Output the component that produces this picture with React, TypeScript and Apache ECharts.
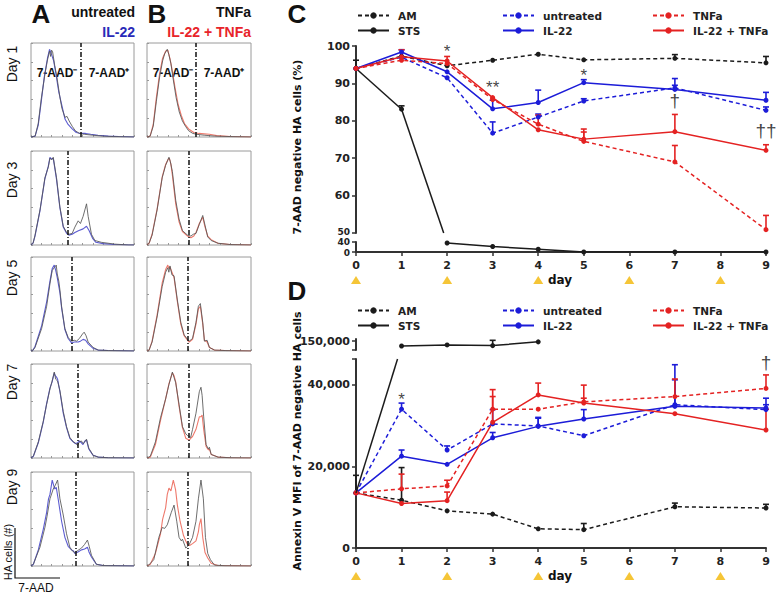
import React, { useEffect, useRef } from "react";
import * as echarts from "echarts";

// ---------------- DATA ----------------
const days = [0, 1, 2, 3, 4, 5, 7, 9];
const treatmentDays = [0, 2, 4, 6, 8];

// Panel C: 7-AAD negative HA cells (%)
const cAM = [94.0, 97.3, 94.7, 96.2, 97.8, 96.3, 96.7, 95.5];
const cAMErr = [96.2, null, null, null, null, null, 97.7, 97.2];
const cUntreated = [94.0, 97.0, 91.5, 76.7, 81.0, 85.3, 88.8, 82.8];
const cUntreatedErr = [null, null, null, 79.7, 81.8, 85.9, 89.5, 83.7];
const cIL22 = [94.0, 98.4, 93.1, 83.2, 84.9, 90.2, 88.4, 85.5];
const cIL22Err = [null, 99.0, null, 85.5, 88.2, 91.0, 91.3, 87.6];
const cTNFa = [94.0, 96.2, 95.3, 85.7, 79.1, 74.5, 69.0, 50.9];
const cTNFaErr = [null, null, null, null, 81.5, 77.0, 73.4, 54.7];
const cCombo = [94.0, 97.1, 96.0, 86.2, 77.6, 75.1, 77.1, 72.1];
const cComboErr = [null, 99.0, 97.2, null, null, 77.8, 81.7, 73.6];
const cSTSUpperDays = [0, 1];
const cSTSUpper = [94.0, 83.1];
const cSTSUpperErr = [null, 84.0];
const cSTSLowerDays = [2, 3, 4, 5, 7, 9];
const cSTSLower = [36, 22, 11, 0, 0, 0];
const cLowerTickLabels = [0, 40];
const cMarks = [
  { day: 2, value: 98.6, text: "*" },
  { day: 3, value: 89.0, text: "**" },
  { day: 5, value: 92.2, text: "*" },
  { day: 7, value: 85.5, text: "†" },
  { day: 9, value: 77.5, text: "††" },
];

// Panel D: Annexin V MFI of 7-AAD negative HA cells
const dAM = [13500, 11700, 9100, 8300, 4700, 4500, 10100, 9800];
const dAMErr = [17800, 19700, null, null, null, 6000, 11000, 10700];
const dUntreated = [13500, 34000, 24000, 30400, 29900, 27500, 35100, 33900];
const dUntreatedErr = [null, 35500, 25000, 33900, 32000, null, 41200, 35100];
const dIL22 = [13500, 22500, 20500, 27000, 29800, 31600, 34700, 34300];
const dIL22Err = [null, 24000, null, 28300, 31800, 33900, 44900, 36700];
const dTNFa = [13500, 14500, 15200, 34000, 34000, 35800, 37100, 39100];
const dTNFaErr = [null, 18100, 16600, 37100, null, 36700, 41400, 42400];
const dCombo = [13500, 10900, 11600, 30800, 37500, 35500, 32900, 28900];
const dComboErr = [null, null, 13700, 38800, 40400, 39900, null, 34000];
const dSTSLowerDays = [0];
const dSTSLower = [13500];
const dSTSUpperDays = [1, 2, 3, 4];
const dSTSUpper = [147800, 148300, 148000, 149700];
const dSTSUpperErr = [null, null, 150400, null];
const dMarks = [
  { day: 1, value: 36300, text: "*" },
  { day: 9, value: 45400, text: "†" },
];

// Panels A/B: 7-AAD histograms ([channel %, count %])
const histDayLabels = ["Day 1", "Day 3", "Day 5", "Day 7", "Day 9"];
const gatesA = [48.4, 36.1, 40, 45.2, 43.2];
const gatesB = [46.4, 40.6, 39.6, 40, 39];

const d1AGray = [[0,0],[4,1],[7,15],[10,43],[13.5,70],[16,86],[18,96],[19,90],[20,97],[21,95],[23,80],[25,68],[28,45],[30,32],[33,22],[35,23],[37,18],[40,12],[43,7],[47,4],[52,3],[60,2],[70,1],[80,0.5],[100,0]];
const d1ABlue = [[0,0],[4,1],[7,13],[10,40],[13,68],[16,88],[18,98],[20,92],[22,85],[24,72],[27,50],[30,35],[33,20],[36,14],[40,9],[44,5],[48,4],[53,4],[58,3],[65,2],[75,1],[85,0.5],[100,0]];
const d1BGray = [[0,0],[3,1],[6,12],[9,40],[12,66],[15,85],[17,93],[19.5,98],[21,92],[23,82],[25,66],[28,44],[31,28],[34,18],[37,12],[40,7],[44,4],[48,3],[55,2],[65,1],[80,0.5],[100,0]];
const d1BRed = [[0,0],[3,1],[6,14],[9,44],[12,70],[15,88],[18,96],[20,97],[22,88],[24,76],[27,55],[30,36],[33,24],[36,15],[40,9],[45,5],[50,4],[55,3.5],[60,3],[67,1.5],[80,0.5],[100,0]];

const d3AGray = [[0,0],[2,2],[3.9,11],[8.7,39],[13.5,75],[16.8,87],[18.4,97],[20,95],[21.6,98],[24.8,75],[28,43],[31.3,21],[34.5,14],[36.8,12],[40,13],[42.6,20],[45.8,27],[48,24],[50.6,32],[53.9,46],[55.5,32],[58.7,12],[62,5],[68.4,3],[81,1],[95,0],[100,0]];
const d3ABlue = [[0,0],[2,2],[3.9,10],[8.7,38],[13.5,74],[16.8,88],[18.4,98],[20,96],[21.6,97],[24.8,73],[28,42],[31.3,20],[34.5,13],[36.8,11],[40,12],[42.6,14],[46,16],[50.6,18],[53.9,21],[56.5,16],[60,7],[63,3],[70,1.5],[81,0.5],[95,0],[100,0]];
const d3BGray = [[0,0],[2,2],[4.9,11],[9.7,39],[14.6,75],[17.9,89],[21.1,98],[22.5,93],[24.4,82],[27.6,50],[30.8,29],[34.1,16],[39,11],[42.2,10],[44.5,12],[47.1,13],[50.3,23],[53.6,33],[55.8,22],[58.4,9],[61.7,5],[68.2,2],[80,0.5],[100,0]];
const d3BRed = [[0,0],[2,2],[4.9,12],[9.7,40],[14.6,76],[17.9,90],[20.5,96],[21.5,97],[23,90],[24.4,78],[27.6,46],[30.8,26],[34.1,15],[39,10],[42.2,8],[45,10],[47.1,14],[50.3,24],[53.6,31],[55.8,20],[58.4,10],[61.7,6],[68.2,2],[80,0.5],[100,0]];

const d5AGray = [[0,0],[2,1],[3.9,4],[10.3,25],[15.2,50],[18.4,75],[20.6,90],[22.6,93],[24.5,96],[25.5,86],[27,78],[28.1,68],[29.7,50],[32.9,25],[36.1,15],[39.4,11],[42,12],[44.2,11],[47,14],[50,19],[51.6,21],[53.5,17],[55.5,10],[60.3,4],[65.2,1],[75,0.5],[100,0]];
const d5ABlue = [[0,0],[2,1],[3.9,5],[10.3,28],[15.2,55],[18.4,78],[20.6,92],[22.6,96],[24,90],[25.5,82],[28.1,65],[29.7,48],[32.9,24],[36.1,14],[39.4,9],[42,10],[45.8,10],[48,11],[50.6,13],[53,12],[55.5,8],[60.3,3],[65.2,1],[75,0.5],[100,0]];
const d5BGray = [[0,0],[2,1],[4.9,10],[9.7,38],[14.6,72],[17.9,88],[20,93],[21,88],[22.1,95],[24,85],[26,84],[29.2,57],[32.5,32],[35.7,18],[39,13],[40.6,11],[43.8,14],[47.1,32],[49.4,50],[51.3,53],[53.6,32],[55.2,11],[57.8,12],[60,4],[64.9,1],[75,0.5],[100,0]];
const d5BRed = [[0,0],[2,1],[4.9,11],[9.7,40],[14.6,76],[17.9,91],[20,96],[21,92],[22.1,94],[24,88],[26,82],[29.2,55],[32.5,30],[35.7,17],[39,12],[40.6,10],[43.8,13],[47.1,30],[49.4,47],[51.3,50],[53.6,30],[55.2,12],[57.8,10],[60,4],[64.9,1],[75,0.5],[100,0]];

const d7AGray = [[0,0],[2.3,2],[7.1,18],[11.9,41],[15.2,60],[18.4,77],[20.5,86],[22.6,96],[24,88],[25.8,86],[28.1,75],[31.3,52],[34.5,35],[37.7,23],[41,18],[43,17],[45.2,14],[47,18],[49,19],[50.5,16],[52.3,18],[53.9,21],[56.1,11],[60.3,3],[65.2,1],[75,0.3],[100,0]];
const d7ABlue = [[0,0],[2.3,2],[7.1,17],[11.9,40],[15.2,61],[18.4,78],[20.5,85],[22.6,95],[23.5,92],[25,90],[25.8,88],[28.1,74],[31.3,50],[34.5,34],[37.7,22],[41,18],[43,16],[45.2,17],[47,19],[49,17],[50.5,15],[52.3,19],[53.9,20],[56.1,10],[60.3,3],[65.2,1],[75,0.3],[100,0]];
const d7BGray = [[0,0],[3.2,2],[8.1,18],[13,45],[17.9,66],[21.1,82],[24.4,96],[26,90],[27.6,84],[30.8,60],[34.1,35],[37.3,27],[39,25],[40.6,24],[42,23],[43.8,32],[47.1,50],[50.3,74],[51.9,79],[53,70],[54.5,46],[56.8,15],[59.1,10],[60,12],[61.7,4],[68.2,1],[80,0.3],[100,0]];
const d7BRed = [[0,0],[3.2,1],[8.1,15],[13,42],[17.9,66],[21.1,83],[24.4,95],[26,92],[27.6,85],[30.8,58],[34.1,34],[37.3,22],[39,21],[40.6,20],[42,22],[43.8,24],[47.1,32],[50.3,46],[51.9,46],[53,48],[54.5,32],[56.8,13],[59.1,9],[60,10],[61.7,4],[68.2,1],[80,0.3],[100,0]];

const d9AGray = [[0,0],[2.3,2],[8.7,21],[13.5,43],[15.5,55],[18.4,75],[21.6,86],[23.5,90],[25.8,96],[26.5,90],[28.1,75],[31.3,57],[34.5,36],[37.7,21],[40,17],[42.6,15],[45,17],[49,20],[52,24],[54.8,29],[56.5,22],[58.7,12],[63.5,2],[70,0.5],[100,0]];
const d9ABlue = [[0,0],[2.3,2],[7.1,18],[11.9,41],[15.2,60],[17,75],[18.4,80],[19.5,88],[20.6,96],[22,90],[23.2,86],[24.5,88],[26.5,74],[29.7,50],[32.9,32],[36.1,22],[39.4,18],[41,17],[42.6,14],[46,16],[49,18],[52,19],[54.8,21],[56.5,15],[58.7,10],[63.5,2],[70,0.5],[100,0]];
const d9BGray = [[0,0],[1.6,1],[6.5,7],[11.4,32],[14.6,43],[17,42],[19.5,46],[23.4,60],[26,68],[28.6,50],[30.8,32],[33,28],[34.1,30],[37.3,20],[39,22],[40.6,24],[43.8,32],[47.1,50],[49.4,75],[51.9,96],[54.2,75],[56.2,32],[58.4,14],[61,7],[64.9,1],[75,0.3],[100,0]];
const d9BRed = [[0,0],[3.2,2],[8.1,14],[13,36],[15,52],[17.9,65],[19.5,80],[21.1,87],[23,84],[25.3,96],[26.5,90],[27.5,85],[29.2,68],[31.8,50],[35.1,34],[37.3,28],[39,24],[41,23],[43.8,25],[47.1,28],[49.4,38],[50.3,46],[51.9,53],[53.6,32],[55.8,15],[58.4,9],[61.7,3],[68,0.5],[100,0]];

const histAGray = [d1AGray, d3AGray, d5AGray, d7AGray, d9AGray];
const histABlue = [d1ABlue, d3ABlue, d5ABlue, d7ABlue, d9ABlue];
const histBGray = [d1BGray, d3BGray, d5BGray, d7BGray, d9BGray];
const histBRed = [d1BRed, d3BRed, d5BRed, d7BRed, d9BRed];

const legendCols = [["AM", "STS"], ["untreated", "IL-22"], ["TNFa", "IL-22 + TNFa"]];

// ---------------- STYLE / LAYOUT ----------------
const FONT_AX = "DejaVu Sans";
const FONT_TXT = "Liberation Sans, Arial, sans-serif";
const BLACK = "#1b1b1b";
const BLUE = "#1c1cd8";
const RED = "#e42222";
const YELLOW = "#f2b705";
const AXIS_C = "#333";
const HIST_TOPS = [43, 151, 257, 364, 472];
const HIST_H = 94;
const DAY_LABEL_Y = [64, 180, 278, 382, 487];
const PLOT_L = 356;
const PLOT_W = 410;
const C_UPPER_MIN = 50;
const D_LOWER_MAX = 46300;
const Y_LABEL_MARGIN = 6;
const BREAK_LABEL_FONT = `bold 9px ${FONT_AX}`;

function buildOption() {
  const grid: any[] = [];
  const xAxis: any[] = [];
  const yAxis: any[] = [];
  const series: any[] = [];

  const addGrid = (g: any, x: any, y: any) => {
    grid.push({ containLabel: false, ...g });
    const i = grid.length - 1;
    xAxis.push({ gridIndex: i, ...x });
    yAxis.push({ gridIndex: i, ...y });
    return i;
  };

  // ---- Histograms ----
  const histX = {
    type: "value", min: 0, max: 100, interval: 10,
    axisLine: { show: false }, axisLabel: { show: false }, splitLine: { show: false },
    axisTick: { show: true, inside: true, length: 2, lineStyle: { color: "#999" } },
  };
  const histY = {
    type: "value", min: 0, max: 105, interval: 21,
    axisLine: { show: false }, axisLabel: { show: false }, splitLine: { show: false },
    axisTick: { show: true, inside: true, length: 2, lineStyle: { color: "#999" } },
  };
  const cols = [
    { left: 31, width: 103, gray: histAGray, col: histABlue, color: "#4a4acc", gates: gatesA },
    { left: 147, width: 104, gray: histBGray, col: histBRed, color: "#ec6a5c", gates: gatesB },
  ];
  cols.forEach((c) => {
    HIST_TOPS.forEach((top, r) => {
      const gi = addGrid(
        { left: c.left, top, width: c.width, height: HIST_H, show: true, borderColor: "#9a9a9a", borderWidth: 1 },
        histX, histY
      );
      series.push({
        type: "line", xAxisIndex: gi, yAxisIndex: gi, data: c.col[r], showSymbol: false, silent: true,
        lineStyle: { color: c.color, width: 1.1, opacity: 0.9 }, z: 2,
      });
      series.push({
        type: "line", xAxisIndex: gi, yAxisIndex: gi, data: c.gray[r], showSymbol: false, silent: true,
        lineStyle: { color: "#555", width: 1, opacity: 0.85 }, z: 3,
        markLine: {
          symbol: "none", silent: true, label: { show: false },
          lineStyle: { color: "#111", type: [5, 2, 1, 2], width: 1.5 },
          data: [{ xAxis: c.gates[r] }],
        },
      });
    });
  });

  // ---- common axis styles ----
  const axLine = { show: true, lineStyle: { color: AXIS_C, width: 2 } };
  const axTick = { show: true, length: 4, lineStyle: { color: AXIS_C, width: 1.5 } };
  const axLabel = { fontFamily: FONT_AX, fontWeight: "bold", fontSize: 11, color: "#222" };
  const yLabel = { ...axLabel, margin: Y_LABEL_MARGIN, lineHeight: 9 };
  const hiddenX = { type: "value", min: 0, max: 9, show: false };
  const dayX = {
    type: "value", min: 0, max: 9, interval: 1, axisLine: axLine, axisTick: axTick,
    axisLabel: { ...axLabel, margin: 8 }, splitLine: { show: false },
  };

  // ---- Panel C ----
  const cU = addGrid({ left: PLOT_L, top: 46, width: PLOT_W, height: 187 }, hiddenX, {
    type: "value", min: C_UPPER_MIN, max: 100, interval: 10, axisLine: axLine, axisTick: axTick,
    axisLabel: { ...yLabel, formatter: (v: number) => (v === C_UPPER_MIN ? "" : String(v)) },
    splitLine: { show: false },
  });
  const cL = addGrid({ left: PLOT_L, top: 242, width: PLOT_W, height: 10 }, dayX, {
    type: "value", min: 0, max: 40, interval: 40, axisLine: axLine, axisTick: axTick,
    axisLabel: { show: false }, splitLine: { show: false },
  });
  const cT = addGrid({ left: PLOT_L, top: 274, width: PLOT_W, height: 12 }, hiddenX, { type: "value", min: 0, max: 1, show: false });

  // ---- Panel D ----
  const dU = addGrid({ left: PLOT_L, top: 339, width: PLOT_W, height: 11 }, hiddenX, {
    type: "value", min: 146000, max: 151000, axisLine: axLine,
    axisTick: { ...axTick, customValues: [146000, 150000] },
    axisLabel: { ...yLabel, customValues: [150000] }, splitLine: { show: false },
  });
  const dL = addGrid({ left: PLOT_L, top: 359, width: PLOT_W, height: 189 }, dayX, {
    type: "value", min: 0, max: D_LOWER_MAX, axisLine: axLine,
    axisTick: { ...axTick, customValues: [0, 20000, 40000, D_LOWER_MAX] },
    axisLabel: { ...yLabel, customValues: [0, 20000, 40000] }, splitLine: { show: false },
  });
  const dT = addGrid({ left: PLOT_L, top: 570, width: PLOT_W, height: 12 }, hiddenX, { type: "value", min: 0, max: 1, show: false });

  const line = (name: string, axis: number, xs: number[], ys: number[], color: string, dashed: boolean) => {
    series.push({
      type: "line", name, xAxisIndex: axis, yAxisIndex: axis,
      data: xs.map((d, i) => [d, ys[i]]),
      symbol: "circle", symbolSize: 5, showSymbol: true, silent: true, z: 4,
      itemStyle: { color },
      lineStyle: { color, width: 1.5, type: dashed ? [4, 3] : "solid" },
    });
    return series.length - 1;
  };
  const err = (axis: number, xs: number[], ys: number[], tops: (number | null)[], color: string) => {
    const data: number[][] = [];
    xs.forEach((d, i) => {
      if (tops[i] != null) data.push([d, ys[i], tops[i] as number]);
    });
    series.push({
      type: "custom", name: "_err", xAxisIndex: axis, yAxisIndex: axis, data, silent: true, z: 3,
      renderItem: (_p: any, api: any) => {
        const p0 = api.coord([api.value(0), api.value(1)]);
        const p1 = api.coord([api.value(0), api.value(2)]);
        return {
          type: "group",
          children: [
            { type: "line", shape: { x1: p0[0], y1: p0[1], x2: p1[0], y2: p1[1] }, style: { stroke: color, lineWidth: 1.6 } },
            { type: "line", shape: { x1: p1[0] - 3, y1: p1[1], x2: p1[0] + 3, y2: p1[1] }, style: { stroke: color, lineWidth: 1.6 } },
          ],
        };
      },
    });
  };
  const marks = (axis: number, items: { day: number; value: number; text: string }[]) => {
    series.push({
      type: "scatter", name: "_marks", xAxisIndex: axis, yAxisIndex: axis, silent: true, z: 6,
      symbolSize: 1, itemStyle: { color: "rgba(0,0,0,0)" },
      data: items.map((it) => ({
        value: [it.day, it.value],
        label: {
          show: true, position: "inside", formatter: it.text, color: "#111",
          fontFamily: FONT_TXT, fontSize: it.text.includes("†") ? 19 : 17,
        },
      })),
    });
  };
  const triangles = (axis: number) => {
    series.push({
      type: "scatter", name: "_tri", xAxisIndex: axis, yAxisIndex: axis, silent: true,
      symbol: "triangle", symbolSize: [10, 8], itemStyle: { color: YELLOW },
      data: treatmentDays.map((d) => [d, 0.5]),
    });
  };

  // Panel C series
  err(cU, days, cAM, cAMErr, BLACK);
  line("AM", cU, days, cAM, BLACK, true);
  err(cU, cSTSUpperDays, cSTSUpper, cSTSUpperErr, BLACK);
  const sCU = line("STS", cU, cSTSUpperDays, cSTSUpper, BLACK, false);
  const sCL = line("STS", cL, cSTSLowerDays, cSTSLower, BLACK, false);
  err(cU, days, cUntreated, cUntreatedErr, BLUE);
  line("untreated", cU, days, cUntreated, BLUE, true);
  err(cU, days, cIL22, cIL22Err, BLUE);
  line("IL-22", cU, days, cIL22, BLUE, false);
  err(cU, days, cTNFa, cTNFaErr, RED);
  line("TNFa", cU, days, cTNFa, RED, true);
  err(cU, days, cCombo, cComboErr, RED);
  line("IL-22 + TNFa", cU, days, cCombo, RED, false);
  marks(cU, cMarks);
  triangles(cT);

  // Panel D series
  err(dL, days, dAM, dAMErr, BLACK);
  line("AM", dL, days, dAM, BLACK, true);
  const sDL = line("STS", dL, dSTSLowerDays, dSTSLower, BLACK, false);
  err(dU, dSTSUpperDays, dSTSUpper, dSTSUpperErr, BLACK);
  const sDU = line("STS", dU, dSTSUpperDays, dSTSUpper, BLACK, false);
  err(dL, days, dUntreated, dUntreatedErr, BLUE);
  line("untreated", dL, days, dUntreated, BLUE, true);
  err(dL, days, dIL22, dIL22Err, BLUE);
  line("IL-22", dL, days, dIL22, BLUE, false);
  err(dL, days, dTNFa, dTNFaErr, RED);
  line("TNFa", dL, days, dTNFa, RED, true);
  err(dL, days, dCombo, dComboErr, RED);
  line("IL-22 + TNFa", dL, days, dCombo, RED, false);
  marks(dL, dMarks);
  triangles(dT);

  // Legends
  const legend: any[] = [];
  const legendLefts = [357, 502, 652];
  [10, 305].forEach((top) => {
    legendCols.forEach((names, i) => {
      legend.push({
        data: names, orient: "vertical", left: legendLefts[i], top, itemWidth: 31, itemHeight: 8,
        itemGap: 4, selectedMode: false, padding: 0,
        textStyle: { fontFamily: FONT_AX, fontWeight: "bold", fontSize: 10.5, color: "#222", padding: [0, 0, 0, 4] },
      });
    });
  });

  return { option: { animation: false, grid, xAxis, yAxis, series, legend }, idx: { sCU, sCL, sDL, sDU } };
}

const txt = (x: number, y: number, text: string, o: any = {}) => ({
  type: "text", x, y, rotation: o.rotation || 0, silent: true,
  style: {
    text, fill: o.fill || "#111", font: o.font || `bold 14px ${FONT_TXT}`,
    textAlign: o.align || "center", textVerticalAlign: "middle", align: o.align || "center", verticalAlign: "middle",
  },
});

function staticGraphics() {
  const g: any[] = [];
  g.push(txt(41, 14, "A", { font: `bold 26px ${FONT_TXT}` }));
  g.push(txt(157, 14, "B", { font: `bold 26px ${FONT_TXT}` }));
  g.push(txt(297, 14, "C", { font: `bold 26px ${FONT_TXT}` }));
  g.push(txt(297, 291, "D", { font: `bold 26px ${FONT_TXT}` }));
  g.push(txt(135, 12, "untreated", { align: "right" }));
  g.push(txt(135, 32, "IL-22", { align: "right", fill: "#2a2ab8" }));
  g.push(txt(251, 12, "TNFa", { align: "right" }));
  g.push(txt(251, 32, "IL-22 + TNFa", { align: "right", fill: "#e8242a" }));
  histDayLabels.forEach((lab, i) => {
    g.push(txt(12, DAY_LABEL_Y[i], lab, { rotation: Math.PI / 2, font: `14px ${FONT_TXT}` }));
  });
  const gateFont = `bold 12px ${FONT_TXT}`;
  g.push(txt(57, 73, "7-AAD⁻", { font: gateFont }));
  g.push(txt(109, 73, "7-AAD⁺", { font: gateFont }));
  g.push(txt(173, 73, "7-AAD⁻", { font: gateFont }));
  g.push(txt(224, 73, "7-AAD⁺", { font: gateFont }));
  g.push(txt(8, 552, "HA cells (#)", { rotation: Math.PI / 2, font: `11px ${FONT_TXT}` }));
  g.push({ type: "polyline", silent: true, shape: { points: [[15, 528], [15, 578], [60, 578]] }, style: { stroke: "#111", lineWidth: 1.2, fill: null } });
  g.push(txt(36, 588, "7-AAD", { font: `12px ${FONT_TXT}` }));
  g.push(txt(297, 147, "7-AAD negative HA cells (%)", { rotation: Math.PI / 2, font: `bold 11px ${FONT_AX}` }));
  g.push(txt(297, 441, "Annexin V MFI of 7-AAD negative HA cells", { rotation: Math.PI / 2, font: `bold 11px ${FONT_AX}` }));
  g.push(txt(560, 280, "day", { font: `bold 12px ${FONT_AX}` }));
  g.push(txt(560, 576, "day", { font: `bold 12px ${FONT_AX}` }));
  return g;
}

export default function App() {
  const ref = useRef<HTMLDivElement>(null);
  useEffect(() => {
    if (!ref.current) return;
    const chart = echarts.init(ref.current, null, { renderer: "svg" });
    const { option, idx } = buildOption();
    chart.setOption(option);

    // STS lines crossing the axis breaks: straight segment between the real
    // points of two grids, clipped at the break edge.
    const bridge = (sA: number, a: number[], sB: number, b: number[], cutSeries: number, cutValue: number) => {
      const pA = chart.convertToPixel({ seriesIndex: sA }, a) as number[];
      const pB = chart.convertToPixel({ seriesIndex: sB }, b) as number[];
      const yCut = (chart.convertToPixel({ seriesIndex: cutSeries }, [0, cutValue]) as number[])[1];
      const t = (yCut - pA[1]) / (pB[1] - pA[1]);
      const x = pA[0] + t * (pB[0] - pA[0]);
      return {
        type: "line", silent: true, z: 10,
        shape: { x1: pA[0], y1: pA[1], x2: x, y2: yCut },
        style: { stroke: BLACK, lineWidth: 1.5 },
      };
    };
    const g = staticGraphics();
    g.push(bridge(idx.sCU, [cSTSUpperDays[1], cSTSUpper[1]], idx.sCL, [cSTSLowerDays[0], cSTSLower[0]], idx.sCU, C_UPPER_MIN));
    g.push(bridge(idx.sDL, [dSTSLowerDays[0], dSTSLower[0]], idx.sDU, [dSTSUpperDays[0], dSTSUpper[0]], idx.sDL, D_LOWER_MAX));
    // tick labels around the break of panel C's y axis (tightly packed, so slightly smaller)
    const p50 = chart.convertToPixel({ seriesIndex: idx.sCU }, [0, C_UPPER_MIN]) as number[];
    g.push(txt(p50[0] - Y_LABEL_MARGIN, p50[1] - 1.5, String(C_UPPER_MIN), { align: "right", font: BREAK_LABEL_FONT, fill: "#222" }));
    cLowerTickLabels.forEach((v) => {
      const p = chart.convertToPixel({ seriesIndex: idx.sCL }, [0, v]) as number[];
      const nudge = v === 0 ? 1 : 0;
      g.push(txt(p[0] - Y_LABEL_MARGIN, p[1] + nudge, String(v), { align: "right", font: BREAK_LABEL_FONT, fill: "#222" }));
    });
    chart.setOption({ graphic: g });
    return () => chart.dispose();
  }, []);
  return <div ref={ref} style={{ position: "fixed", left: 0, top: 0, width: 778, height: 594, background: "#fff" }} />;
}
